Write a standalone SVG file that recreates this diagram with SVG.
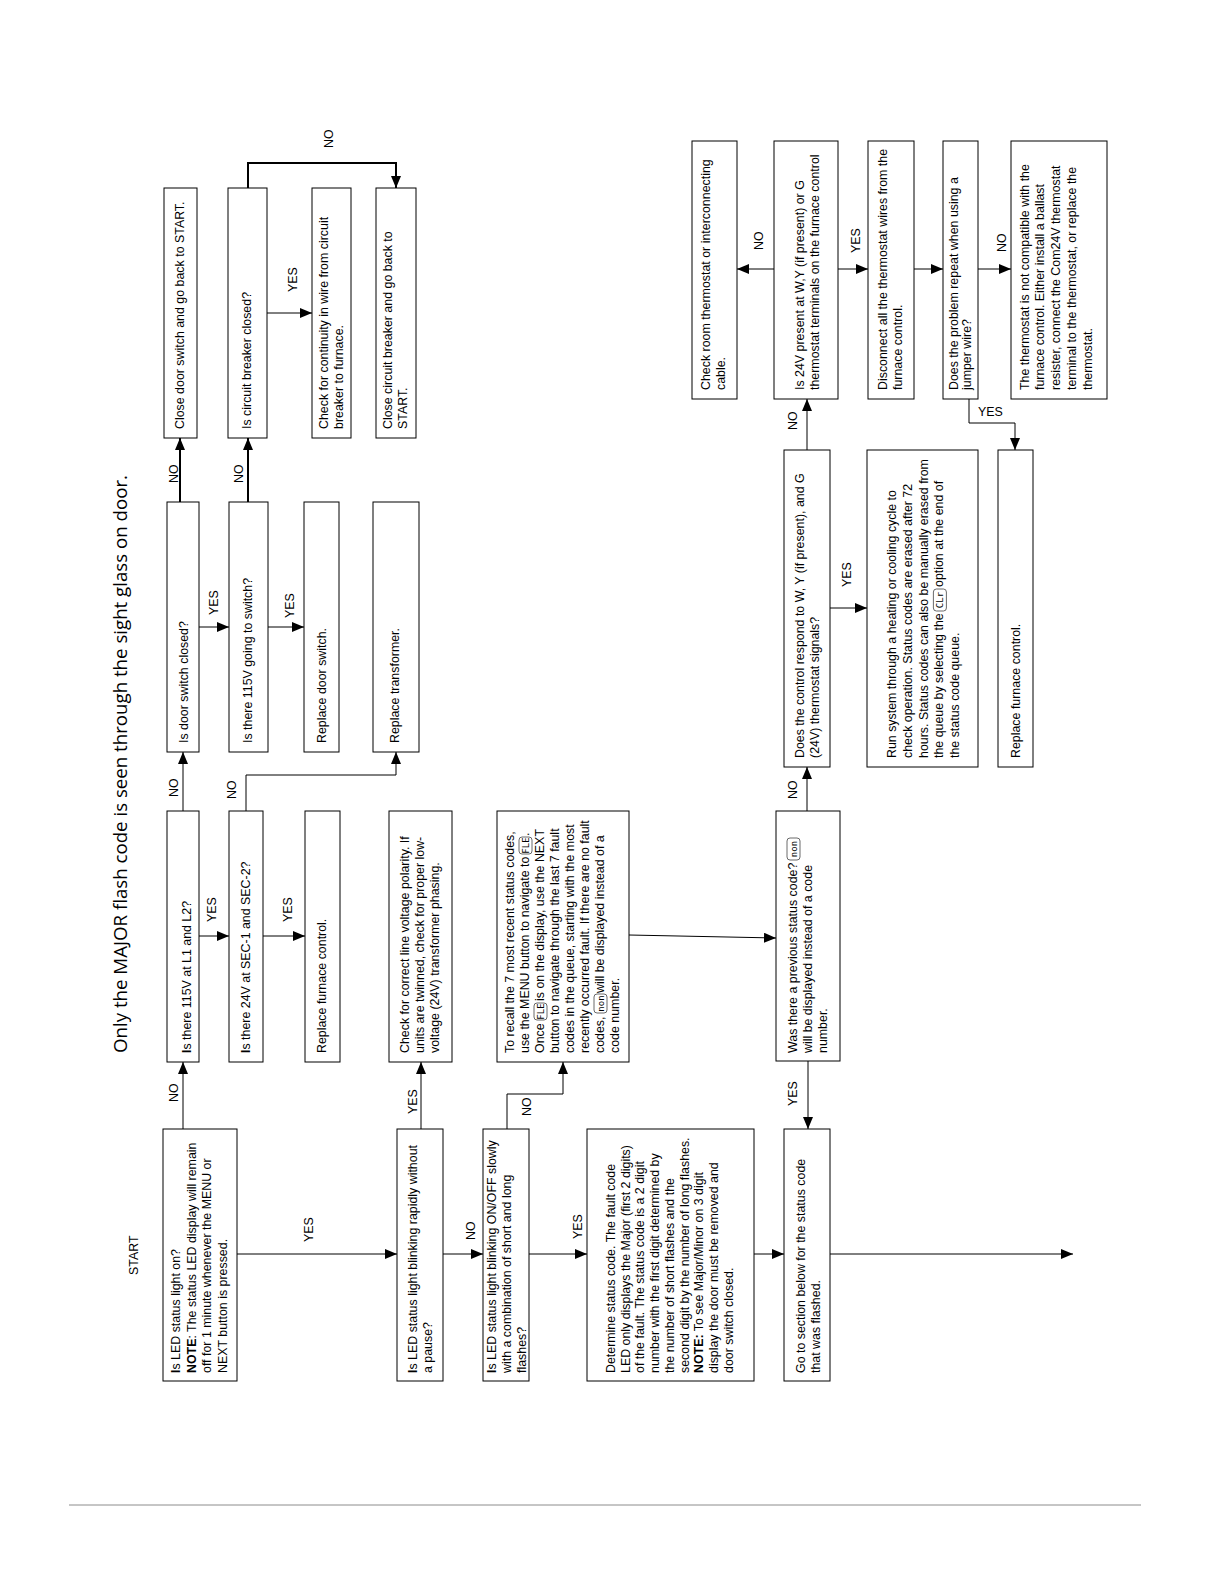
<svg xmlns="http://www.w3.org/2000/svg" width="1224" height="1584" viewBox="0 0 1224 1584">
<defs>
<style>
.bx{fill:#fff;stroke:#000;stroke-width:1}
.t{font-family:"Liberation Sans",Arial,sans-serif;font-size:12.4px;fill:#000}
.b{font-weight:bold}
.c{fill:none;stroke:#000;stroke-width:1;marker-end:url(#ah)}
.k{stroke-width:2}
.ic{fill:#fff;stroke:#444;stroke-width:0.8}
.it{font-family:"DejaVu Sans Mono",monospace;font-size:9px;fill:#000}
.ttl{font-family:"Open Sans","Noto Sans",sans-serif;font-size:18px;fill:#000}
</style>
<marker id="ah" markerUnits="userSpaceOnUse" markerWidth="12" markerHeight="10" refX="12" refY="5" orient="auto"><path d="M0,0 L12,5 L0,10 z" fill="#000"/></marker>
</defs>
<rect width="1224" height="1584" fill="#fff"/>
<line x1="69" y1="1505" x2="1141" y2="1505" stroke="#8c8c8c" stroke-width="1"/>
<text class="t" x="978" y="416">YES</text>
<g transform="translate(0,1584) rotate(-90)">
<text class="ttl" x="531" y="127" textLength="578" lengthAdjust="spacingAndGlyphs">Only the MAJOR flash code is seen through the sight glass on door.</text>
<text class="t" x="309" y="138">START</text>

<g id="connectors">
<path class="c" d="M330 237 V397"/>
<path class="c" d="M330 443 V483"/>
<path class="c" d="M330 529 V587"/>
<path class="c" d="M330 754 V784"/>
<path class="c" d="M330 830 V1073"/>
<path class="c" d="M455 183 H522"/>
<path class="c" d="M455 421 H522"/>
<path class="c" d="M455 507 H490 V563 H522"/>
<path class="c" d="M648 199 V229"/>
<path class="c" d="M648 263 V305"/>
<path class="c" d="M773 183 H832"/>
<path class="c" d="M773 246 H809 V396 H832"/>
<path class="c" d="M649 629 L646 776"/>
<path class="c" d="M523 808 H455"/>
<path class="c" d="M773 807 H817"/>
<path class="c" d="M957 199 V229"/>
<path class="c" d="M957 268 V304"/>
<path class="c k" d="M1082 180 H1146"/>
<path class="c k" d="M1082 248 H1146"/>
<path class="c" d="M1271 267 V312"/>
<path class="c k" d="M1396 248 H1421 V396 H1396"/>
<path class="c" d="M976 830 V867"/>
<path class="c" d="M1134 807 H1185"/>
<path class="c" d="M1315 774 V737"/>
<path class="c" d="M1315 838 V868"/>
<path class="c" d="M1315 914 V943"/>
<path class="c" d="M1315 978 V1011"/>
<path class="c" d="M1185 969 H1161 V1015 H1134"/>
<text class="t" x="342" y="313">YES</text>
<text class="t" x="344" y="475">NO</text>
<text class="t" x="345" y="582">YES</text>
<text class="t" x="482" y="178">NO</text>
<text class="t" x="470" y="417">YES</text>
<text class="t" x="468" y="531">NO</text>
<text class="t" x="662" y="216">YES</text>
<text class="t" x="662" y="292">YES</text>
<text class="t" x="787" y="178">NO</text>
<text class="t" x="785" y="236">NO</text>
<text class="t" x="478" y="797">YES</text>
<text class="t" x="785" y="797">NO</text>
<text class="t" x="969" y="218">YES</text>
<text class="t" x="966" y="294">YES</text>
<text class="t" x="1101" y="178">NO</text>
<text class="t" x="1101" y="243">NO</text>
<text class="t" x="1292" y="297">YES</text>
<text class="t" x="1436" y="333">NO</text>
<text class="t" x="997" y="851">YES</text>
<text class="t" x="1154" y="797">NO</text>
<text class="t" x="1334" y="763">NO</text>
<text class="t" x="1331" y="860">YES</text>
<text class="t" x="1332" y="1006">NO</text>
</g>

<g id="ledOn">
<rect class="bx" x="203" y="163" width="252" height="74"/>
<text class="t" x="211" y="180"><tspan class="b">I</tspan>s LED status light on?</text>
<text class="t" x="211" y="195.5"><tspan class="b">NOTE</tspan>: The status LED display will remain</text>
<text class="t" x="211" y="211">off for 1 minute whenever the MENU or</text>
<text class="t" x="211" y="226.5">NEXT button is pressed.</text>
</g>
<g id="blinkRapid">
<rect class="bx" x="203" y="397" width="252" height="46"/>
<text class="t" x="211" y="416.5"><tspan class="b">I</tspan>s LED status light blinking rapidly without</text>
<text class="t" x="211" y="431.5">a pause?</text>
</g>
<g id="blinkSlow">
<rect class="bx" x="203" y="483" width="252" height="46"/>
<text class="t" x="211" y="496"><tspan class="b">I</tspan>s LED status light blinking ON/OFF slowly</text>
<text class="t" x="211" y="511">with a combination of short and long</text>
<text class="t" x="211" y="526">flashes?</text>
</g>
<g id="determine">
<rect class="bx" x="203" y="587" width="252" height="167"/>
<text class="t" x="211" y="615">Determine status code.  The fault code</text>
<text class="t" x="211" y="629.7">LED only displays the Major (first 2 digits)</text>
<text class="t" x="211" y="644.4">of the fault. The status code is a 2 digit</text>
<text class="t" x="211" y="659.1">number with the first digit determined by</text>
<text class="t" x="211" y="673.8">the number of short flashes and the</text>
<text class="t" x="211" y="688.5">second digit by the number of long flashes.</text>
<text class="t" x="211" y="703.2"><tspan class="b">NOTE:</tspan> To see Major/Minor on 3 digit</text>
<text class="t" x="211" y="717.9">display the door must be removed and</text>
<text class="t" x="211" y="732.6">door switch closed.</text>
</g>
<g id="goSection">
<rect class="bx" x="203" y="784" width="252" height="46"/>
<text class="t" x="211" y="804.5">Go to section below for the status code</text>
<text class="t" x="211" y="819.5">that was flashed.</text>
</g>

<g id="v115L1L2">
<rect class="bx" x="522" y="167" width="251" height="32"/>
<text class="t" x="531" y="191"><tspan class="b">I</tspan>s there 115V at L1 and L2?</text>
</g>
<g id="v24Sec">
<rect class="bx" x="522" y="229" width="251" height="34"/>
<text class="t" x="531" y="250"><tspan class="b">I</tspan>s there 24V at SEC-1 and SEC-2?</text>
</g>
<g id="replFurnace1">
<rect class="bx" x="522" y="305" width="251" height="35"/>
<text class="t" x="531" y="325.5">Replace furnace control.</text>
</g>
<g id="polarity">
<rect class="bx" x="522" y="389" width="251" height="63"/>
<text class="t" x="531" y="408.5">Check for correct line voltage polarity. If</text>
<text class="t" x="531" y="423.5">units are twinned, check for proper low-</text>
<text class="t" x="531" y="438.5">voltage (24V) transformer phasing.</text>
</g>
<g id="recall">
<rect class="bx" x="522" y="497" width="251" height="132"/>
<text class="t" x="531" y="514">To recall the 7 most recent status codes,</text>
<text class="t" x="531" y="529">use the MENU button to navigate to</text>
<rect class="ic" x="730" y="519" width="17" height="13" rx="3"/>
<text class="it" x="738.5" y="529" text-anchor="middle">FLE</text>
<text class="t" x="748" y="529">.</text>
<text class="t" x="531" y="544">Once</text>
<rect class="ic" x="564" y="534" width="17" height="13" rx="3"/>
<text class="it" x="572.5" y="544" text-anchor="middle">FLE</text>
<text class="t" x="583" y="544"> is on the display, use the NEXT</text>
<text class="t" x="531" y="559">button to navigate through the last 7 fault</text>
<text class="t" x="531" y="574">codes in the queue, starting with the most</text>
<text class="t" x="531" y="589">recently occurred fault. If there are no fault</text>
<text class="t" x="531" y="604">codes,</text>
<rect class="ic" x="571" y="594" width="19" height="13" rx="3"/>
<text class="it" x="580.5" y="604" text-anchor="middle">non</text>
<text class="t" x="591" y="604"> will be displayed instead of a</text>
<text class="t" x="531" y="619">code number.</text>
</g>
<g id="prevCode">
<rect class="bx" x="523" y="776" width="250" height="64"/>
<text class="t" x="531" y="797">Was there a previous status code?</text>
<rect class="ic" x="724" y="787" width="22" height="13" rx="3"/>
<text class="it" x="735" y="797" text-anchor="middle">non</text>
<text class="t" x="531" y="812">will be displayed instead of a code</text>
<text class="t" x="531" y="827">number.</text>
</g>

<g id="doorClosed">
<rect class="bx" x="832" y="167" width="250" height="32"/>
<text class="t" x="841" y="188">Is door switch closed?</text>
</g>
<g id="v115Switch">
<rect class="bx" x="832" y="229" width="250" height="39"/>
<text class="t" x="841" y="252">Is there 115V going to switch?</text>
</g>
<g id="replDoor">
<rect class="bx" x="832" y="304" width="250" height="35"/>
<text class="t" x="841" y="325.5">Replace door switch.</text>
</g>
<g id="replTrans">
<rect class="bx" x="832" y="373" width="250" height="46"/>
<text class="t" x="841" y="399">Replace transformer.</text>
</g>

<g id="closeDoor">
<rect class="bx" x="1146" y="164" width="250" height="33"/>
<text class="t" x="1155" y="184">Close door switch and go back to START.</text>
</g>
<g id="breakerClosed">
<rect class="bx" x="1146" y="228" width="250" height="39"/>
<text class="t" x="1155" y="251">Is circuit breaker closed?</text>
</g>
<g id="continuity">
<rect class="bx" x="1146" y="312" width="250" height="39"/>
<text class="t" x="1155" y="328">Check for continuity in wire from circuit</text>
<text class="t" x="1155" y="343">breaker to furnace.</text>
</g>
<g id="closeBreaker">
<rect class="bx" x="1146" y="376" width="250" height="40"/>
<text class="t" x="1155" y="392">Close circuit breaker and go back to</text>
<text class="t" x="1155" y="407">START.</text>
</g>

<g id="respond">
<rect class="bx" x="817" y="784" width="317" height="46"/>
<text class="t" x="826" y="803.5">Does the control respond to W, Y (if present), and G</text>
<text class="t" x="826" y="818.5">(24V) thermostat signals?</text>
</g>
<g id="runSystem">
<rect class="bx" x="817" y="867" width="317" height="111"/>
<text class="t" x="826" y="896">Run system through a heating or cooling cycle to</text>
<text class="t" x="826" y="911.8">check operation. Status codes are erased after 72</text>
<text class="t" x="826" y="927.6">hours. Status codes can also be manually erased from</text>
<text class="t" x="826" y="943.4">the queue by selecting the</text>
<rect class="ic" x="973" y="933.4" width="22" height="13" rx="3"/>
<text class="it" x="984" y="943.4" text-anchor="middle">CLr</text>
<text class="t" x="997" y="943.4"> option at the end of</text>
<text class="t" x="826" y="959.2">the status code queue.</text>
</g>
<g id="replFurnace2">
<rect class="bx" x="817" y="998" width="317" height="35"/>
<text class="t" x="826" y="1019.5">Replace furnace control.</text>
</g>

<g id="checkRoom">
<rect class="bx" x="1185" y="692" width="258" height="45"/>
<text class="t" x="1194" y="710">Check room thermostat or interconnecting</text>
<text class="t" x="1194" y="725">cable.</text>
</g>
<g id="v24Present">
<rect class="bx" x="1185" y="774" width="258" height="64"/>
<text class="t" x="1194" y="803.5">Is 24V present at W,Y (if present) or G</text>
<text class="t" x="1194" y="818.5">thermostat terminals on the furnace control</text>
</g>
<g id="disconnect">
<rect class="bx" x="1185" y="868" width="258" height="46"/>
<text class="t" x="1194" y="887">Disconnect all the thermostat wires from the</text>
<text class="t" x="1194" y="902">furnace control.</text>
</g>
<g id="jumper">
<rect class="bx" x="1185" y="943" width="258" height="35"/>
<text class="t" x="1194" y="958">Does the problem repeat when using a</text>
<text class="t" x="1194" y="971">jumper wire?</text>
</g>
<g id="incompatible">
<rect class="bx" x="1185" y="1011" width="258" height="96"/>
<text class="t" x="1194" y="1028.5">The thermostat is not compatible with the</text>
<text class="t" x="1194" y="1044.4">furnace control. Either install a ballast</text>
<text class="t" x="1194" y="1060.3">resister, connect the Com24V thermostat</text>
<text class="t" x="1194" y="1076.2">terminal to the thermostat, or replace the</text>
<text class="t" x="1194" y="1092">thermostat.</text>
</g>
</g>
</svg>
